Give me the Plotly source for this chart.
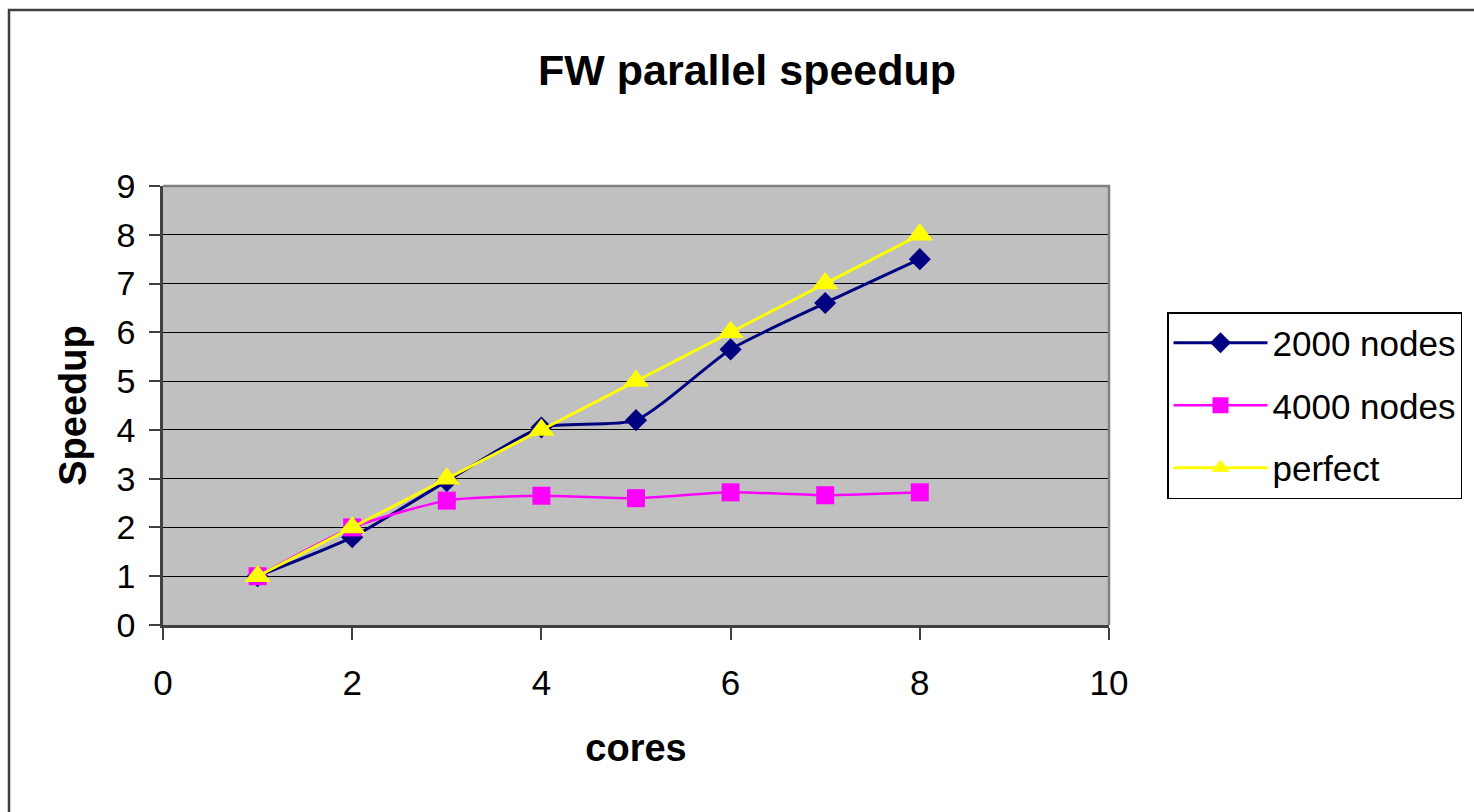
import plotly.graph_objects as go

cores = [1, 2, 3, 4, 5, 6, 7, 8]
nodes2000 = [1.0, 1.8, 2.95, 4.05, 4.2, 5.65, 6.6, 7.5]
nodes4000 = [1.0, 2.0, 2.55, 2.65, 2.6, 2.72, 2.66, 2.72]
perfect = [1, 2, 3, 4, 5, 6, 7, 8]

x_ticks = [0, 2, 4, 6, 8, 10]
y_ticks = [0, 1, 2, 3, 4, 5, 6, 7, 8, 9]

W, H = 1474, 812
L, R, T, B = 163, 365, 186, 187
pw, ph = W - L - R, H - T - B

fig = go.Figure()
fig.add_trace(go.Scatter(
    x=cores, y=nodes2000, name="2000 nodes", mode="lines+markers",
    line=dict(color="#000080", width=3, shape="spline", smoothing=0.6),
    marker=dict(symbol="diamond", size=17, color="#000080", line=dict(width=0)),
    legendgroup="a"))
fig.add_trace(go.Scatter(
    x=cores, y=nodes4000, name="4000 nodes", mode="lines+markers",
    line=dict(color="#FF00FF", width=2.5, shape="spline", smoothing=0.6),
    marker=dict(symbol="square", size=18, color="#FF00FF", line=dict(width=0)),
    legendgroup="b"))
fig.add_trace(go.Scatter(
    x=cores, y=perfect, name="perfect", mode="lines+markers",
    line=dict(color="#FFFF00", width=3),
    marker=dict(symbol="triangle-up", size=23, color="#FFFF00", line=dict(width=0)),
    legendgroup="c"))

font_family = "Liberation Sans, Arial, sans-serif"

fig.update_layout(
    width=W, height=H,
    margin=dict(l=L, r=R, t=T, b=B, pad=0),
    paper_bgcolor="white",
    plot_bgcolor="#C0C0C0",
    font=dict(family=font_family, color="black", size=34),
    title=dict(text="<b>FW parallel speedup</b>", x=747 / W, xanchor="center",
               xref="container", yref="container", y=1 - 70 / H, yanchor="middle",
               font=dict(size=43, family=font_family, color="black")),
    xaxis=dict(range=[0, 10], tickvals=x_ticks, ticks="outside", ticklen=12,
               tickwidth=1.5, tickcolor="#404040", showgrid=False, zeroline=False,
               showline=True, linecolor="#404040", linewidth=2.5,
               tickfont=dict(size=35), ticklabelstandoff=13,
               title=dict(text="<b>cores</b>", font=dict(size=38), standoff=34)),
    yaxis=dict(range=[0, 9], tickvals=y_ticks, ticks="outside", ticklen=11,
               tickwidth=1.5, tickcolor="#404040", showgrid=True, gridcolor="black",
               gridwidth=1.3, zeroline=False, showline=True, linecolor="#404040",
               linewidth=2.5, tickfont=dict(size=34), ticklabelstandoff=7,
               title=dict(text="<b>Speedup</b>", font=dict(size=38), standoff=19)),
    legend=dict(x=(1167 - L) / pw, y=(625 - 312) / ph, xanchor="left", yanchor="top",
                bgcolor="white", bordercolor="black", borderwidth=1.5,
                font=dict(size=35, family=font_family), traceorder="grouped",
                tracegroupgap=14, itemwidth=94),
    showlegend=True,
    shapes=[
        dict(type="path", xref="paper", yref="paper", path="M 0,1 L 1,1 L 1,0",
             line=dict(color="#808080", width=2.5), layer="above"),
        dict(type="rect", xref="paper", yref="paper",
             x0=(9 - L) / pw, x1=3, y0=-3, y1=(625 - 10) / ph,
             line=dict(color="#404040", width=2.5), layer="below"),
    ],
)

fig.write_html("out.html")
